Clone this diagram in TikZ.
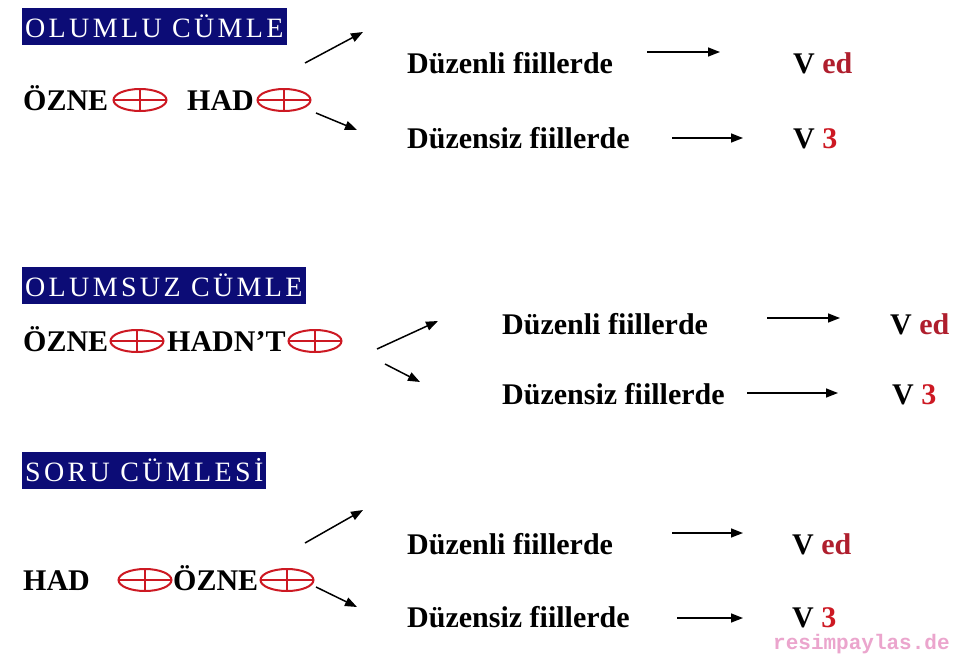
\documentclass[tikz,border=0pt]{standalone}
\usepackage{fontspec}
\setmainfont{Liberation Serif}
\newfontfamily\baslikfont[LetterSpace=12]{Liberation Serif}
\newfontfamily\filigranfont{Liberation Mono}
\usetikzlibrary{shapes.geometric,arrows.meta,positioning}
\definecolor{lacivert}{RGB}{12,12,118}
\definecolor{kirmizi}{RGB}{205,25,35}
\definecolor{bordo}{RGB}{175,30,45}
\definecolor{pembe}{RGB}{235,165,205}

\begin{document}
\begin{tikzpicture}[x=1pt,y=-1pt,
	baslik/.style={fill=lacivert,text=white,font=\baslikfont\fontsize{28}{28}\selectfont,minimum height=37pt,inner xsep=3pt,inner ysep=0pt,anchor=west},
	kelime/.style={font=\bfseries\fontsize{30}{30}\selectfont,inner sep=0pt,anchor=base west},
	arti/.style={ellipse,draw=kirmizi,line width=2pt,minimum width=53pt,minimum height=22pt,inner sep=0pt,
		path picture={\draw[kirmizi,line width=2pt] (path picture bounding box.west) -- (path picture bounding box.east)
			(path picture bounding box.north) -- (path picture bounding box.south);}},
	ok/.style={line width=1.5pt,-{Triangle[length=12pt,width=9pt]}}]
	\useasboundingbox[fill=white] (0,0) rectangle (962,656);

	% olumlu
	\node[baslik] (baslikA) at (22,26.5) {OLUMLU CÜMLE};
	\node[kelime] (ozneA) at (23,110) {ÖZNE};
	\node[arti] (artiA1) at (140,100) {};
	\node[kelime] (hadA) at (187,110) {HAD};
	\node[arti] (artiA2) at (284,100) {};
	\node[kelime] (duzA1) at (407,73) {Düzenli fiillerde};
	\node[kelime] (duzA2) at (407,148) {Düzensiz fiillerde};
	\node[kelime] (vA1) at (793,73) {V \textcolor{bordo}{ed}};
	\node[kelime] (vA2) at (793,148) {V \textcolor{kirmizi}{3}};
	\coordinate (yA1) at (305,63);
	\coordinate (yA2) at (363,32);
	\coordinate (aA1) at (316,113);
	\coordinate (aA2) at (357,130);
	\coordinate (okA1) at (647,52);
	\coordinate (okA2) at (720,52);
	\coordinate (okA3) at (672,138);
	\coordinate (okA4) at (743,138);
	\draw[ok] (yA1) -- (yA2);
	\draw[ok] (aA1) -- (aA2);
	\draw[ok] (okA1) -- (okA2);
	\draw[ok] (okA3) -- (okA4);

	% olumsuz
	\node[baslik] (baslikB) at (22,285) {OLUMSUZ CÜMLE};
	\node[kelime] (ozneB) at (23,351) {ÖZNE};
	\node[arti] (artiB1) at (137,341) {};
	\node[kelime] (hadntB) at (167,351) {HADN'T};
	\node[arti] (artiB2) at (315,341) {};
	\node[kelime] (duzB1) at (502,334) {Düzenli fiillerde};
	\node[kelime] (duzB2) at (502,404) {Düzensiz fiillerde};
	\node[kelime] (vB1) at (890,334) {V \textcolor{bordo}{ed}};
	\node[kelime] (vB2) at (892,404) {V \textcolor{kirmizi}{3}};
	\coordinate (yB1) at (377,349);
	\coordinate (yB2) at (438,321);
	\coordinate (aB1) at (385,364);
	\coordinate (aB2) at (420,382);
	\coordinate (okB1) at (767,318);
	\coordinate (okB2) at (840,318);
	\coordinate (okB3) at (747,393);
	\coordinate (okB4) at (838,393);
	\draw[ok] (yB1) -- (yB2);
	\draw[ok] (aB1) -- (aB2);
	\draw[ok] (okB1) -- (okB2);
	\draw[ok] (okB3) -- (okB4);

	% soru
	\node[baslik] (baslikC) at (22,470) {SORU CÜMLESİ};
	\node[kelime] (hadC) at (23,590) {HAD};
	\node[arti] (artiC1) at (145,580) {};
	\node[kelime] (ozneC) at (173,590) {ÖZNE};
	\node[arti] (artiC2) at (287,580) {};
	\node[kelime] (duzC1) at (407,554) {Düzenli fiillerde};
	\node[kelime] (duzC2) at (407,627) {Düzensiz fiillerde};
	\node[kelime] (vC1) at (792,554) {V \textcolor{bordo}{ed}};
	\node[kelime] (vC2) at (792,627) {V \textcolor{kirmizi}{3}};
	\coordinate (yC1) at (305,543);
	\coordinate (yC2) at (363,510);
	\coordinate (aC1) at (316,587);
	\coordinate (aC2) at (357,607);
	\coordinate (okC1) at (672,533);
	\coordinate (okC2) at (743,533);
	\coordinate (okC3) at (677,618);
	\coordinate (okC4) at (743,618);
	\draw[ok] (yC1) -- (yC2);
	\draw[ok] (aC1) -- (aC2);
	\draw[ok] (okC1) -- (okC2);
	\draw[ok] (okC3) -- (okC4);

	\node[inner sep=0pt,anchor=base west,text=pembe,font=\filigranfont\bfseries\fontsize{21}{21}\selectfont] (filigran) at (773,649) {resimpaylas.de};
\end{tikzpicture}
\end{document}
